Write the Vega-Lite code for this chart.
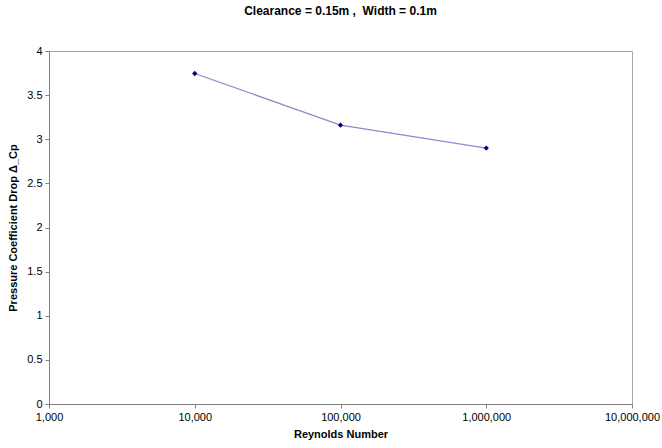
{
  "$schema": "https://vega.github.io/schema/vega-lite/v6.json",
  "width": 583,
  "height": 353,
  "autosize": {"type": "none"},
  "padding": {"left": 49, "top": 51, "right": 30, "bottom": 44},
  "background": "white",
  "title": {
    "text": "Clearance = 0.15m ,\u00a0 Width = 0.1m",
    "font": "Liberation Sans",
    "fontSize": 12,
    "fontWeight": "bold",
    "color": "#000000",
    "offset": 27
  },
  "config": {
    "view": {"stroke": "#a6a6a6", "strokeWidth": 1},
    "axis": {
      "labelFont": "Liberation Sans",
      "labelFontSize": 11,
      "labelColor": "#000000",
      "titleFont": "Liberation Sans",
      "titleFontSize": 11,
      "titleFontWeight": "bold",
      "titleColor": "#000000",
      "domainColor": "#808080",
      "tickColor": "#808080",
      "tickSize": 4,
      "grid": false
    }
  },
  "data": {
    "values": [
      {"re": 10000, "cp": 3.745},
      {"re": 100000, "cp": 3.16},
      {"re": 1000000, "cp": 2.9}
    ]
  },
  "layer": [
    {
      "mark": {"type": "line", "color": "#8a8ad0", "strokeWidth": 1.2},
      "encoding": {
        "x": {
          "field": "re",
          "type": "quantitative",
          "scale": {"type": "log", "domain": [1000, 10000000]},
          "axis": {
            "values": [1000, 10000, 100000, 1000000, 10000000],
            "format": ",",
            "title": "Reynolds Number",
            "labelPadding": 3,
            "titlePadding": 6,
            "labelFlush": false
          }
        },
        "y": {
          "field": "cp",
          "type": "quantitative",
          "scale": {"domain": [0, 4], "nice": false},
          "axis": {
            "values": [0, 0.5, 1, 1.5, 2, 2.5, 3, 3.5, 4],
            "format": "~g",
            "title": "Pressure Coefficient Drop Δ_Cp",
            "labelPadding": 3,
            "titlePadding": 8
          }
        }
      }
    },
    {
      "mark": {"type": "point", "shape": "diamond", "filled": true, "color": "#000080", "size": 28, "opacity": 1},
      "encoding": {
        "x": {"field": "re", "type": "quantitative", "scale": {"type": "log", "domain": [1000, 10000000]}},
        "y": {"field": "cp", "type": "quantitative"}
      }
    }
  ]
}
